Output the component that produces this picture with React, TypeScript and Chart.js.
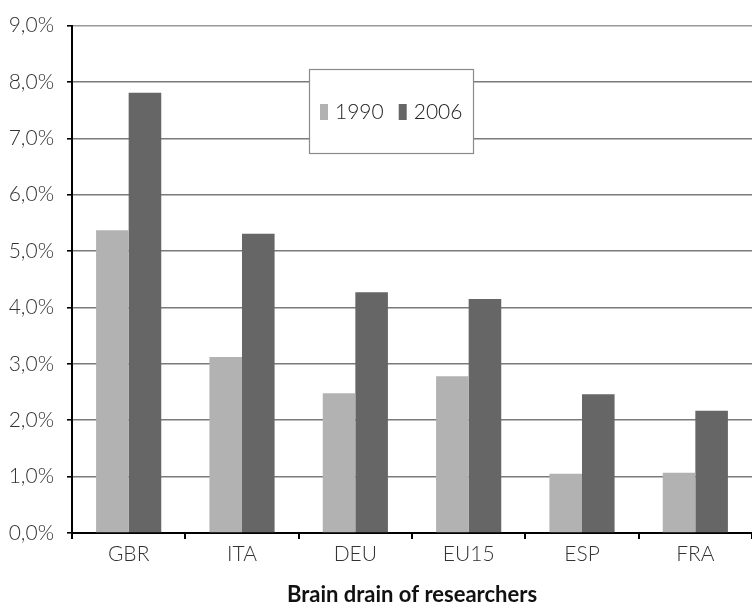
import React, { useEffect, useRef } from "react";
import { Chart, registerables } from "chart.js";

Chart.register(...registerables);

const categories = ["GBR", "ITA", "DEU", "EU15", "ESP", "FRA"];
const seriesLabels = ["1990", "2006"];
const values1990 = [5.37, 3.12, 2.48, 2.78, 1.05, 1.07];
const values2006 = [7.81, 5.31, 4.27, 4.15, 2.46, 2.17];
const seriesColors = ["#b2b2b2", "#666666"];
const axisTitle = "Brain drain of researchers";
const FONT = "Lato, 'DejaVu Sans', sans-serif";

// Legend drawn as a boxed panel inside the plot area
const boxedLegend = {
  id: "boxedLegend",
  afterDatasetsDraw(chart: any) {
    const { ctx } = chart;
    const x = 309, y = 69, w = 164, h = 84;
    ctx.save();
    ctx.fillStyle = "#ffffff";
    ctx.fillRect(x, y, w, h);
    ctx.strokeStyle = "#8a8a8a";
    ctx.lineWidth = 1.2;
    ctx.strokeRect(x + 0.5, y + 0.5, w, h);
    ctx.font = `300 21px ${FONT}`;
    ctx.textBaseline = "middle";
    ctx.fillStyle = "#222";
    const cy = y + h / 2 + 1;
    let cx = x + 11;
    chart.data.datasets.forEach((ds: any) => {
      ctx.fillStyle = ds.backgroundColor;
      ctx.fillRect(cx, cy - 8, 8, 16);
      ctx.fillStyle = "#222";
      ctx.fillText(ds.label, cx + 15, cy);
      cx += 15 + ctx.measureText(ds.label).width + 15;
    });
    ctx.restore();
  },
};

export default function App() {
  const ref = useRef<HTMLCanvasElement>(null);

  useEffect(() => {
    if (!ref.current) return;
    const chart = new Chart(ref.current, {
      type: "bar",
      data: {
        labels: categories,
        datasets: [
          { label: seriesLabels[0], data: values1990, backgroundColor: seriesColors[0] },
          { label: seriesLabels[1], data: values2006, backgroundColor: seriesColors[1] },
        ],
      },
      options: {
        animation: false,
        responsive: false,
        maintainAspectRatio: false,
        layout: { padding: { top: 24, right: 0, left: 0, bottom: 0 } },
        datasets: {
          bar: { categoryPercentage: 0.575, barPercentage: 1 },
        },
        plugins: {
          legend: { display: false },
          tooltip: { enabled: false },
        },
        scales: {
          x: {
            offset: true,
            grid: {
              offset: true,
              drawOnChartArea: false,
              drawTicks: true,
              tickLength: 6,
              color: "#000",
              lineWidth: 2,
            },
            border: { display: true, color: "#000", width: 2 },
            ticks: {
              color: "#333",
              padding: 3,
              font: { family: FONT, size: 21, weight: "300" },
            },
            title: {
              display: true,
              text: axisTitle,
              color: "#111",
              padding: { top: 0, bottom: -3 },
              font: { family: FONT, size: 22, weight: "bold", lineHeight: 1 },
            },
            afterFit(scale: any) {
              scale.height = 70;
            },
          },
          y: {
            min: 0,
            max: 9,
            ticks: {
              stepSize: 1,
              color: "#333",
              padding: 13,
              font: { family: FONT, size: 21, weight: "300" },
              callback: (v: any) => Number(v).toFixed(1).replace(".", ",") + "%",
            },
            grid: {
              color: (c: any) => (c.tick && c.tick.value === 9 ? "#9a9a9a" : "#7a7a7a"),
              tickColor: "#000",
              lineWidth: 1.6,
              tickLength: 5,
            },
            border: { display: true, color: "#000", width: 2 },
            afterFit(scale: any) {
              scale.width = 72;
            },
          },
        },
      },
      plugins: [boxedLegend],
    } as any);
    return () => chart.destroy();
  }, []);

  return (
    <div style={{ position: "fixed", left: 0, top: 0, width: 752, height: 603, background: "#fff" }}>
      <canvas ref={ref} width={752} height={603} style={{ display: "block" }} />
    </div>
  );
}
